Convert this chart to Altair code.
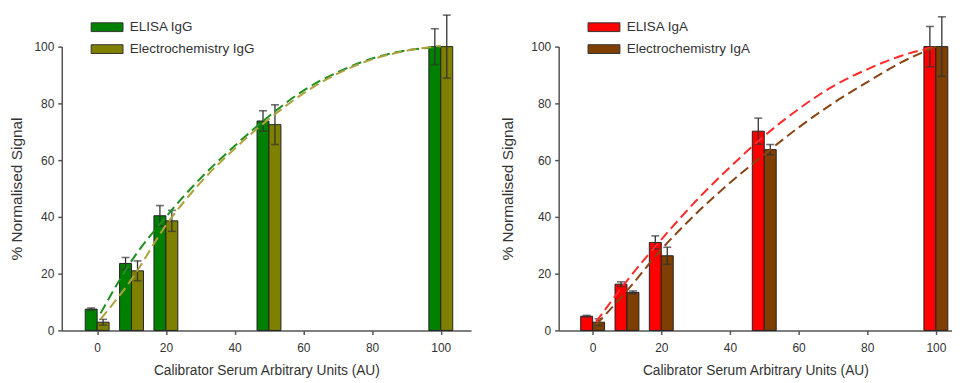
import altair as alt
import pandas as pd

# ---------------- data ----------------
x_levels = [0, 10, 20, 50, 100]

elisa_igg = [7.5, 23.6, 40.4, 73.8, 100.0]
elisa_igg_err = [0.4, 2.1, 3.6, 3.6, 6.3]
echem_igg = [2.9, 21.0, 38.6, 72.5, 100.0]
echem_igg_err = [1.0, 3.5, 3.7, 7.0, 11.1]

elisa_iga = [5.0, 16.3, 31.0, 70.2, 100.0]
elisa_iga_err = [0.3, 0.8, 2.3, 4.6, 7.1]
echem_iga = [2.9, 13.4, 26.3, 63.7, 100.0]
echem_iga_err = [1.2, 0.5, 3.0, 1.8, 10.5]

# fitted (dashed) curves, read at these x positions
fit_x = [1, 10, 20, 30, 40, 50, 60, 70, 80, 90, 100]
fit_elisa_igg = [6.0, 24.5, 40.0, 53.5, 65.0, 75.5, 84.5, 91.0, 95.8, 98.7, 99.8]
fit_echem_igg = [4.0, 18.0, 37.0, 52.0, 64.0, 74.5, 83.5, 90.5, 95.5, 98.5, 100.3]
fit_elisa_iga = [3.0, 17.5, 32.0, 45.5, 57.5, 68.5, 78.0, 86.0, 92.0, 96.8, 100.0]
fit_echem_iga = [2.0, 14.0, 28.5, 41.0, 52.0, 62.0, 71.5, 80.0, 87.5, 94.5, 100.0]

x_ticks = [0, 20, 40, 60, 80, 100]
y_ticks = [0, 20, 40, 60, 80, 100]

FONT = "Liberation Sans, Arial, sans-serif"
TXT = "#333333"
SWATCH = "M-2,-0.55L2,-0.55L2,0.55L-2,0.55Z"


def panel(name_a, name_b, va, ea, vb, eb, fa, fb, fills, line_cols, xdom, width, ytp):
    df = pd.DataFrame({
        "x": x_levels + x_levels,
        "v": va + vb,
        "e": ea + eb,
        "series": [name_a] * len(x_levels) + [name_b] * len(x_levels),
    })
    fit = pd.DataFrame({
        "x": fit_x + fit_x,
        "y": fa + fb,
        "series": [name_a] * len(fit_x) + [name_b] * len(fit_x),
    })

    xs = alt.Scale(domain=xdom, nice=False, zero=False, padding=0)
    ys = alt.Scale(domain=[0, 100], nice=False, padding=0)
    xax = alt.Axis(values=x_ticks, title="Calibrator Serum Arbitrary Units (AU)", grid=False)
    yax = alt.Axis(values=y_ticks, title="% Normalised Signal", grid=False, titlePadding=ytp)

    base = alt.Chart(df).transform_calculate(
        lo="datum.v - datum.e", hi="datum.v + datum.e"
    )
    layers = []
    for name, off in ((name_a, -6), (name_b, 6)):
        sub = base.transform_filter(alt.datum.series == name)
        layers.append(
            sub.mark_bar(width=12, xOffset=off, stroke="#222222", strokeWidth=1).encode(
                x=alt.X("x:Q", scale=xs, axis=xax),
                y=alt.Y("v:Q", scale=ys, axis=yax),
                color=alt.Color(
                    "series:N",
                    scale=alt.Scale(domain=[name_a, name_b], range=fills),
                    legend=alt.Legend(
                        orient="none", legendX=37, legendY=-28, title=None,
                        symbolType=SWATCH, symbolSize=256, symbolOpacity=1,
                        symbolStrokeColor="#333333", symbolStrokeWidth=1,
                        labelFont=FONT, labelFontSize=13.5, labelColor=TXT,
                        labelOffset=14.3, rowPadding=7, padding=0,
                    ),
                ),
            )
        )
    for name, off in ((name_a, -6), (name_b, 6)):
        sub = base.transform_filter(alt.datum.series == name)
        layers.append(
            sub.mark_rule(xOffset=off, color="#333333", strokeWidth=1.3).encode(
                x="x:Q", y="lo:Q", y2="hi:Q"
            )
        )
        for end in ("lo", "hi"):
            layers.append(
                sub.mark_tick(orient="horizontal", size=8, thickness=1.6,
                              xOffset=off, color="#333333").encode(
                    x="x:Q", y=f"{end}:Q"
                )
            )
    fbase = alt.Chart(fit)
    for name, col in ((name_a, line_cols[0]), (name_b, line_cols[1])):
        layers.append(
            fbase.transform_filter(alt.datum.series == name)
            .mark_line(strokeDash=[10, 5], strokeWidth=2, interpolate="monotone")
            .encode(x="x:Q", y="y:Q", color=alt.value(col))
        )
    return alt.layer(*layers).properties(width=width, height=285)


left = panel("ELISA IgG", "Electrochemistry IgG",
             elisa_igg, elisa_igg_err, echem_igg, echem_igg_err,
             fit_elisa_igg, fit_echem_igg,
             ["#008000", "#808000"], ["#1f8f1f", "#aea23c"],
             [-10.3, 108.8], 411, 9)
right = panel("ELISA IgA", "Electrochemistry IgA",
              elisa_iga, elisa_iga_err, echem_iga, echem_iga_err,
              fit_elisa_iga, fit_echem_iga,
              ["#ff0000", "#7f3f00"], ["#ff2a2a", "#8a4515"],
              [-9.9, 104.7], 395, 15)

chart = (
    alt.hconcat(left, right, spacing=29)
    .resolve_scale(x="independent", y="independent", color="independent")
    .properties(padding={"left": 1, "top": 5, "right": 0, "bottom": 0})
    .configure_view(stroke=None)
    .configure_axis(
        domainColor="#555555", domainWidth=1.5,
        tickColor="#555555", tickWidth=1.5, tickSize=4,
        labelFont=FONT, labelFontSize=12, labelColor=TXT, labelPadding=4,
        titleFont=FONT, titleFontWeight="normal", titleColor=TXT,
    )
    .configure_axisX(titleFontSize=13.8, titlePadding=10, labelPadding=8)
    .configure_axisY(titleFontSize=15.5)
)

chart.save("out.html", embed_options={"renderer": "svg", "actions": False})
